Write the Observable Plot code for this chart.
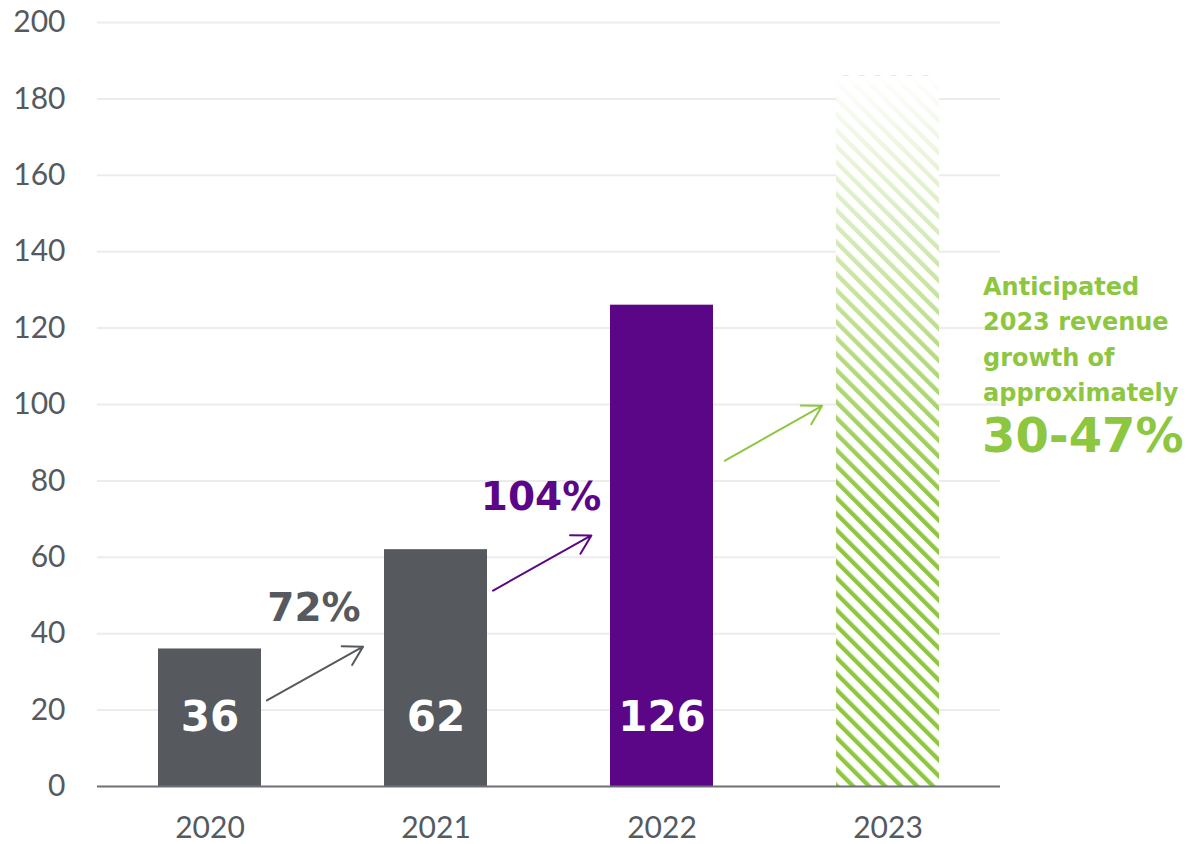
<!DOCTYPE html>
<html>
<head>
<meta charset="utf-8">
<script src="https://cdn.jsdelivr.net/npm/d3@7"></script>
<script src="https://cdn.jsdelivr.net/npm/@observablehq/plot@0.6"></script>
<style>
  html, body { margin: 0; padding: 0; background: #fff; }
  svg { display: block; }
</style>
</head>
<body>
<div id="chart"></div>
<script>
// ---- data ----
const years = ["2020", "2021", "2022", "2023"];
const revenueYears = ["2020", "2021", "2022"];
const revenue = [36, 62, 126];
const revenueLabels = ["36", "62", "126"];
const anticipatedYear = "2023";
const anticipatedTop = 186;
const growthLabels = ["72%", "104%"];
const arrowFrom = ["2020", "2021", "2022"];
const arrowTo = ["2021", "2022", "2023"];
const arrowY1 = [14.2, 42.9, 76.0];
const arrowY2 = [47.3, 76.1, 109.4];
const yTicks = [0, 20, 40, 60, 80, 100, 120, 140, 160, 180, 200];
const noteText = "Anticipated\n2023 revenue\ngrowth of\napproximately";
const noteRange = "30-47%";

const GRAY = "#56595e";
const PURPLE = "#5b0687";
const GREEN = "#8dc63f";
const FONT = "Lato, 'Open Sans', sans-serif";
const BOLD = "'DejaVu Sans', sans-serif";

const bars = revenueYears.map((y, i) => ({year: y, value: revenue[i], label: revenueLabels[i], fill: i === 2 ? PURPLE : GRAY}));
const arrowColors = [GRAY, PURPLE, GREEN];
const arrowInsets = [[65.2, 83.6], [65.4, 81], [72.3, 75.7]];
const arrowMarks = arrowFrom.map((f, i) => Plot.arrow([{x1: f, x2: arrowTo[i], y1: arrowY1[i], y2: arrowY2[i]}], {
  x1: "x1", x2: "x2", y1: "y1", y2: "y2", stroke: arrowColors[i], strokeWidth: 2, headLength: 16,
  insetStart: arrowInsets[i][0], insetEnd: arrowInsets[i][1]
}));

const chart = Plot.plot({
  width: 1194,
  height: 844,
  marginLeft: 97,
  marginRight: 194,
  marginTop: 22,
  marginBottom: 58,
  style: {fontFamily: FONT, background: "#fff", overflow: "visible"},
  x: {domain: years, range: [94.7, 1001.4], paddingInner: 0.544, paddingOuter: 0.272, label: null},
  y: {domain: [0, 200], ticks: yTicks, label: null},
  marks: [
    Plot.gridY(yTicks.filter(d => d > 0), {stroke: "#ececec", strokeOpacity: 1, strokeWidth: 2}),
    Plot.axisY({ticks: yTicks, tickSize: 0, tickPadding: 32, fontSize: 30, fill: "#555a60", label: null}),
    Plot.axisX({tickSize: 0, tickPadding: 30, fontSize: 30, fill: "#555a60", label: null}),
    Plot.barY(bars, {x: "year", y: "value", fill: "fill"}),
    Plot.barY([{year: anticipatedYear, value: anticipatedTop}], {x: "year", y: "value", fill: "url(#hatch)"}),
    Plot.barY([{year: anticipatedYear, value: anticipatedTop}], {x: "year", y: "value", fill: "url(#whiteFade)"}),
    Plot.ruleY([0], {stroke: "#6d7075", strokeWidth: 2}),
    Plot.text(bars, {x: "year", y: 18, text: "label", fill: "#fff", fontSize: 42, fontWeight: 700, fontFamily: BOLD, lineAnchor: "middle"}),
    ...arrowMarks,
    Plot.text([growthLabels[0]], {x: () => "2021", y: 46.6, dx: -122, text: d => d, fill: GRAY, fontSize: 39, fontWeight: 700, fontFamily: BOLD, lineAnchor: "middle"}),
    Plot.text([growthLabels[1]], {x: () => "2021", y: 75.7, dx: 105, text: d => d, fill: PURPLE, fontSize: 39, fontWeight: 700, fontFamily: BOLD, lineAnchor: "middle"}),
    Plot.text([noteText], {x: () => anticipatedYear, y: 117.8, dx: 95, text: d => d, fill: GREEN, fontSize: 24, fontWeight: 700, fontFamily: BOLD, textAnchor: "start", lineAnchor: "middle", lineHeight: 1.48}),
    Plot.text([noteRange], {x: () => anticipatedYear, y: 91.6, dx: 94, text: d => d, fill: GREEN, fontSize: 48, fontWeight: 700, fontFamily: BOLD, textAnchor: "start", lineAnchor: "middle"})
  ]
});

// defs: hatch pattern and white fade overlay
const svg = d3.select(chart);
const defs = svg.insert("defs", ":first-child");
const pat = defs.append("pattern")
  .attr("id", "hatch").attr("patternUnits", "userSpaceOnUse")
  .attr("width", 11.3).attr("height", 11.3)
  .attr("patternTransform", "rotate(-45)");
pat.append("rect").attr("x", 0).attr("y", 0).attr("width", 11.3).attr("height", 11.3).attr("fill", "#fff");
pat.append("rect").attr("x", 0).attr("y", 0).attr("width", 4.3).attr("height", 11.3).attr("fill", GREEN);
const grad = defs.append("linearGradient").attr("id", "whiteFade")
  .attr("x1", 0).attr("y1", 0).attr("x2", 0).attr("y2", 1);
grad.append("stop").attr("offset", 0).attr("stop-color", "#fff").attr("stop-opacity", 1);
grad.append("stop").attr("offset", 0.62).attr("stop-color", "#fff").attr("stop-opacity", 0);
grad.append("stop").attr("offset", 1).attr("stop-color", "#fff").attr("stop-opacity", 0);

document.getElementById("chart").appendChild(chart);
</script>
</body>
</html>
